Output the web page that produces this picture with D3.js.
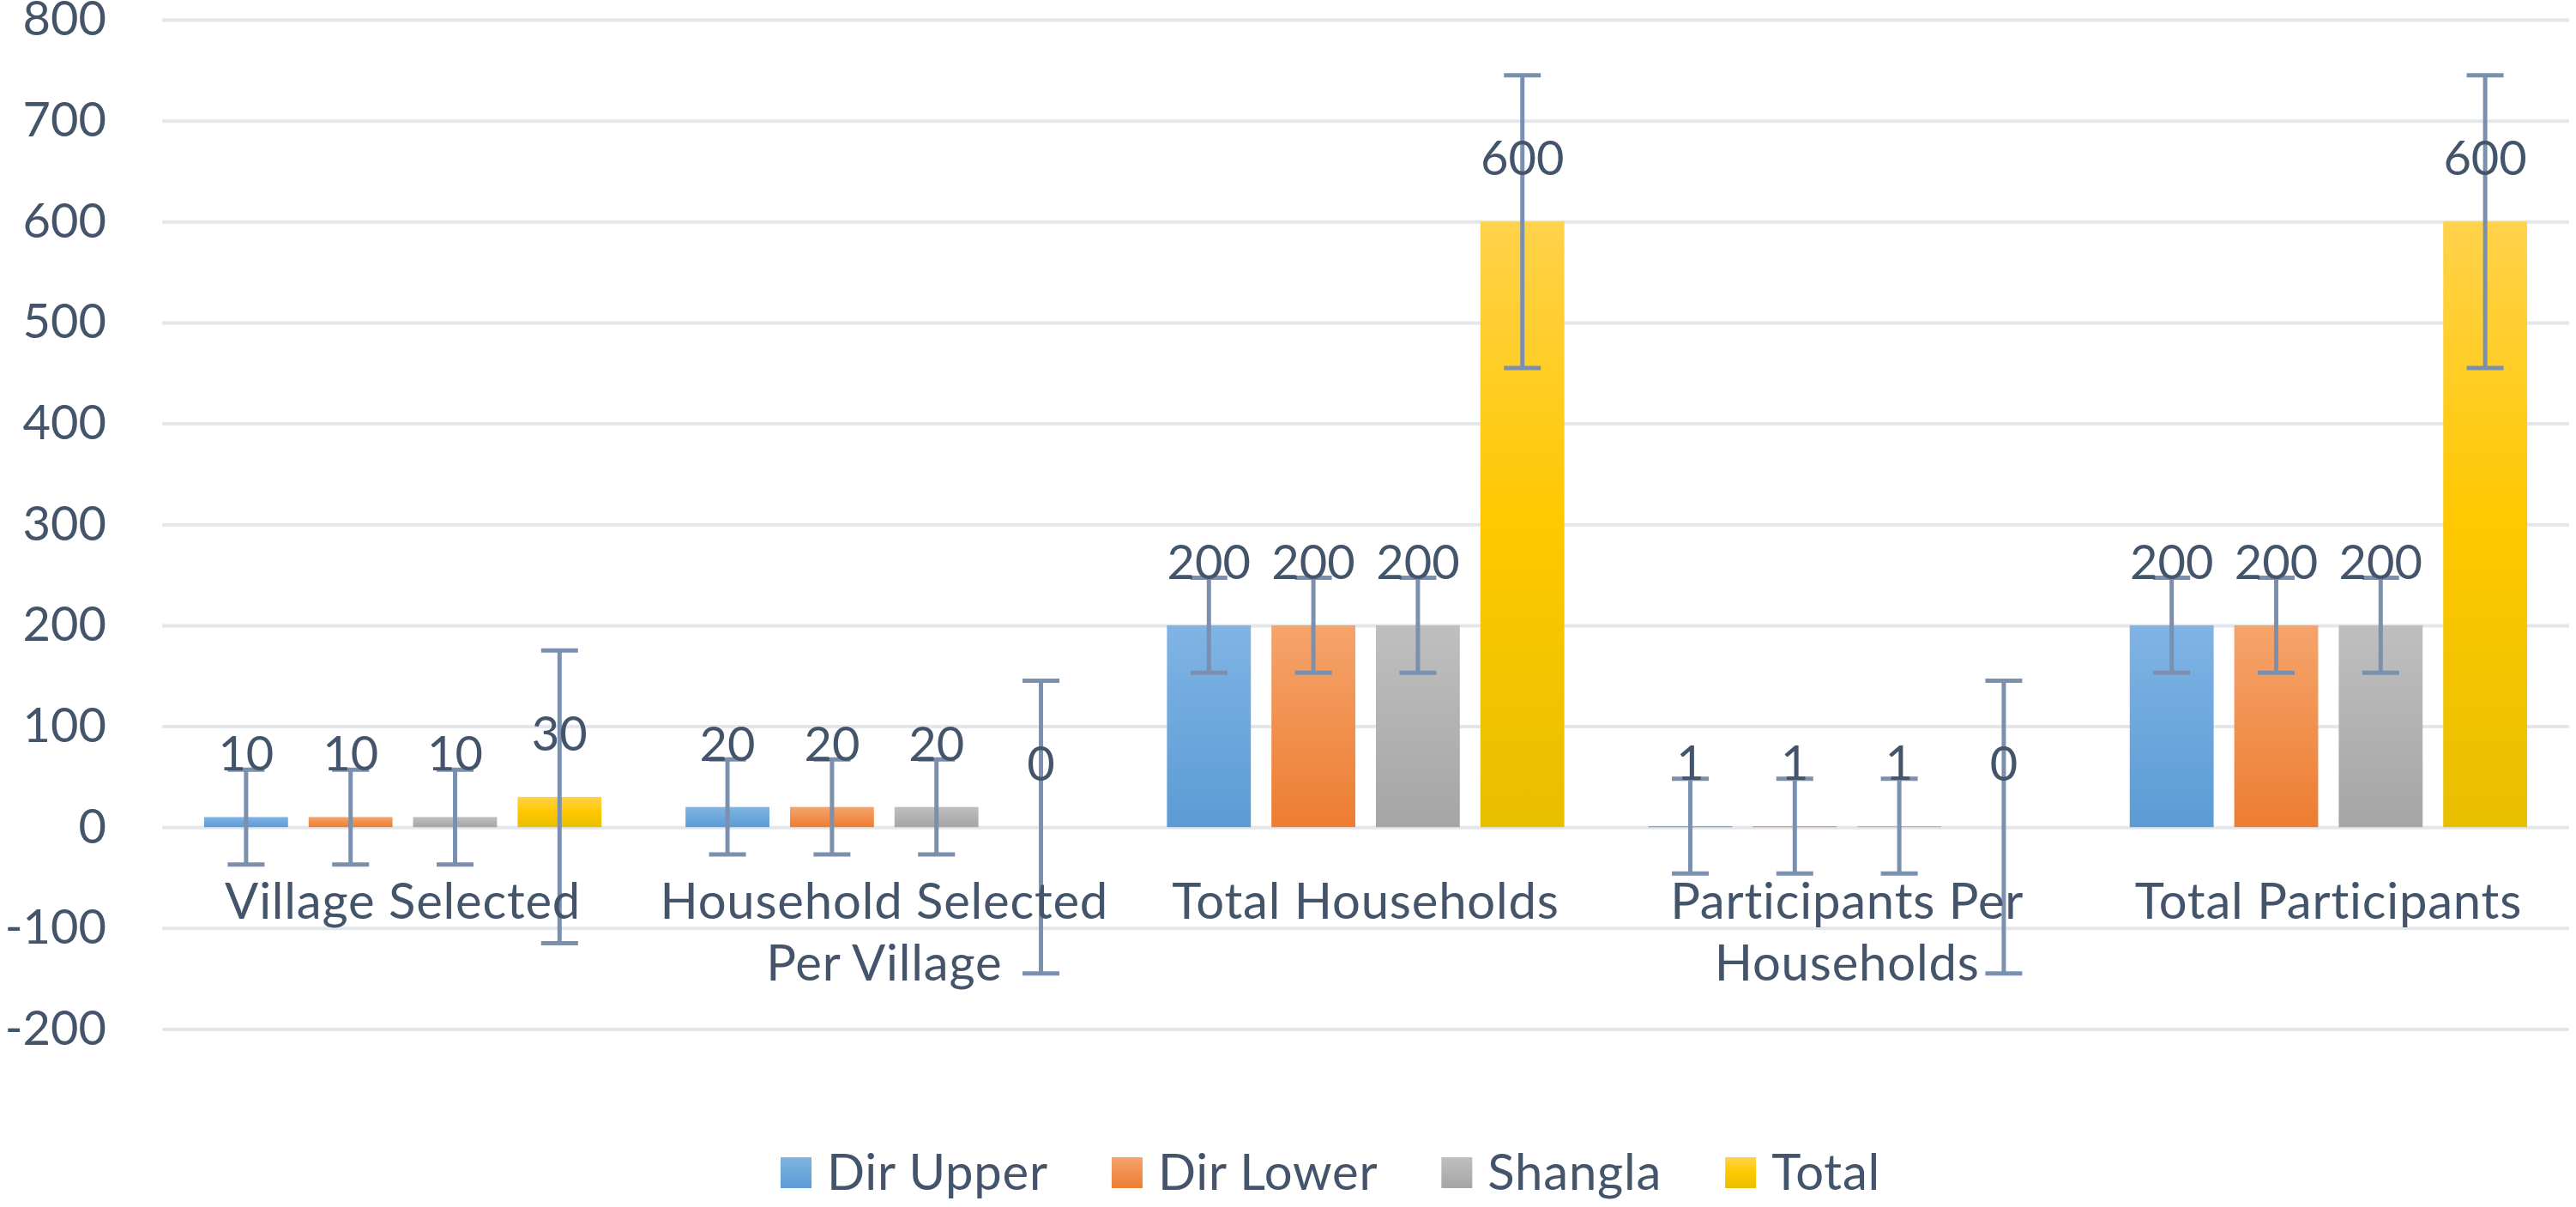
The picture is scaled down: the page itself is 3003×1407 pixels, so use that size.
<!DOCTYPE html>
<html>
<head>
<meta charset="utf-8">
<script src="https://cdn.jsdelivr.net/npm/d3@7"></script>
<style>
  body { margin: 0; background: #fff; }
  svg text { font-family: Lato, "Open Sans", sans-serif; fill: #44546a; }
</style>
</head>
<body>
<div class="chartHolder"></div>
<script>
const categories = [
  "Village Selected",
  "Household Selected Per Village",
  "Total Households",
  "Participants Per Households",
  "Total Participants"
];
const seriesNames = ["Dir Upper", "Dir Lower", "Shangla", "Total"];
const dirUpper = [10, 20, 200, 1, 200];
const dirLower = [10, 20, 200, 1, 200];
const shangla = [10, 20, 200, 1, 200];
const total = [30, 0, 600, 0, 600];
// error bar amount (+/-) for each series
const errorAmounts = [47, 47, 47, 145];
const yTicks = [-200, -100, 0, 100, 200, 300, 400, 500, 600, 700, 800];

const seriesValues = [dirUpper, dirLower, shangla, total];
const gradients = [
  ["#80b4e4", "#5b9bd5"],
  ["#f5a46c", "#ed7d31"],
  ["#bfbfbf", "#a5a5a5"],
  ["#ffd24a", "#ffc800", "#e8bf00"]
];

const width = 3003;
const height = 1407;
const left = 189;
const right = 2995;

const svg = d3
  .select(".chartHolder")
  .append("svg")
  .attr("width", width)
  .attr("height", height);

const defs = svg.append("defs");
gradients.forEach((stops, i) => {
  const g = defs
    .append("linearGradient")
    .attr("id", "grad" + i)
    .attr("x1", 0)
    .attr("y1", 0)
    .attr("x2", 0)
    .attr("y2", 1);
  stops.forEach((c, j) => {
    g.append("stop")
      .attr("offset", j / (stops.length - 1))
      .attr("stop-color", c);
  });
});

const x0 = d3.scaleBand().domain(categories).range([left, right]).padding(0);
const x1 = d3
  .scaleBand()
  .domain(seriesNames)
  .range([0, x0.bandwidth()])
  .paddingInner(0.197)
  .paddingOuter(0.402);
const y = d3.scaleLinear().domain([-200, 800]).range([1199.5, 23]);

// gridlines + y labels
const yAxis = d3
  .axisLeft(y)
  .tickValues(yTicks)
  .tickSize(-(right - left))
  .tickPadding(65)
  .tickFormat((d) => String(d));

svg
  .append("g")
  .attr("id", "y-axis")
  .attr("transform", `translate(${left}, 0)`)
  .call(yAxis)
  .call((g) => g.select(".domain").remove())
  .call((g) =>
    g.selectAll(".tick line").attr("stroke", "#e3e6ea").attr("stroke-width", 4)
  )
  .call((g) =>
    g
      .selectAll(".tick text")
      .attr("font-size", 56)
      .attr("font-family", "Lato, 'Open Sans', sans-serif")
      .attr("fill", "#44546a")
  );

// rows of data: one entry per bar
const bars = [];
categories.forEach((cat, ci) => {
  seriesNames.forEach((s, si) => {
    bars.push({
      cat: cat,
      series: s,
      si: si,
      value: seriesValues[si][ci],
      err: errorAmounts[si]
    });
  });
});

const barX = (d) => x0(d.cat) + x1(d.series);

svg
  .append("g")
  .selectAll("rect")
  .data(bars)
  .enter()
  .append("rect")
  .attr("x", barX)
  .attr("y", (d) => y(Math.max(0, d.value)))
  .attr("width", x1.bandwidth())
  .attr("height", (d) => Math.abs(y(d.value) - y(0)))
  .attr("fill", (d) => `url(#grad${d.si})`);

// error bars
const errColor = "#7a90ae";
const capHalf = 21.5;
const errG = svg.append("g").attr("stroke", errColor).attr("stroke-width", 5);
const cx = (d) => barX(d) + x1.bandwidth() / 2;

errG
  .selectAll(".err-stem")
  .data(bars)
  .enter()
  .append("line")
  .attr("x1", cx)
  .attr("x2", cx)
  .attr("y1", (d) => y(d.value + d.err))
  .attr("y2", (d) => y(d.value - d.err));

errG
  .selectAll(".err-top")
  .data(bars)
  .enter()
  .append("line")
  .attr("x1", (d) => cx(d) - capHalf)
  .attr("x2", (d) => cx(d) + capHalf)
  .attr("y1", (d) => y(d.value + d.err))
  .attr("y2", (d) => y(d.value + d.err));

errG
  .selectAll(".err-bottom")
  .data(bars)
  .enter()
  .append("line")
  .attr("x1", (d) => cx(d) - capHalf)
  .attr("x2", (d) => cx(d) + capHalf)
  .attr("y1", (d) => y(d.value - d.err))
  .attr("y2", (d) => y(d.value - d.err));

// data labels
svg
  .append("g")
  .selectAll("text")
  .data(bars)
  .enter()
  .append("text")
  .attr("x", cx)
  .attr("y", (d) => y(Math.max(0, d.value)) - 54)
  .attr("text-anchor", "middle")
  .attr("font-size", 56)
  .text((d) => d.value);

// category labels, wrapped to the band width
const catG = svg.append("g").attr("id", "x-axis");
categories.forEach((cat) => {
  const mid = x0(cat) + x0.bandwidth() / 2;
  const t = catG
    .append("text")
    .attr("x", mid)
    .attr("y", 1071)
    .attr("text-anchor", "middle")
    .attr("font-size", 58)
    .attr("letter-spacing", 0.8);
  const words = cat.split(" ");
  let line = [];
  let tspan = t.append("tspan").attr("x", mid).attr("dy", 0);
  words.forEach((w) => {
    line.push(w);
    tspan.text(line.join(" "));
    if (tspan.node().getComputedTextLength() > x0.bandwidth() - 10 && line.length > 1) {
      line.pop();
      tspan.text(line.join(" "));
      line = [w];
      tspan = t.append("tspan").attr("x", mid).attr("dy", 72).text(w);
    }
  });
});

// legend
const legend = svg.append("g").attr("id", "legend");
const legendY = 1367;
const sq = 36;
let lx = 0;
seriesNames.forEach((s, i) => {
  const item = legend.append("g").attr("transform", `translate(${lx}, 0)`);
  item
    .append("rect")
    .attr("x", 0)
    .attr("y", legendY - sq / 2)
    .attr("width", sq)
    .attr("height", sq)
    .attr("fill", `url(#grad${i})`);
  const txt = item
    .append("text")
    .attr("x", sq + 18)
    .attr("y", legendY)
    .attr("dy", "0.35em")
    .attr("font-size", 58)
    .attr("letter-spacing", 0.8)
    .text(s);
  lx += sq + 18 + txt.node().getComputedTextLength() + 74;
});
legend.attr("transform", "translate(910, 0)");
</script>
</body>
</html>
